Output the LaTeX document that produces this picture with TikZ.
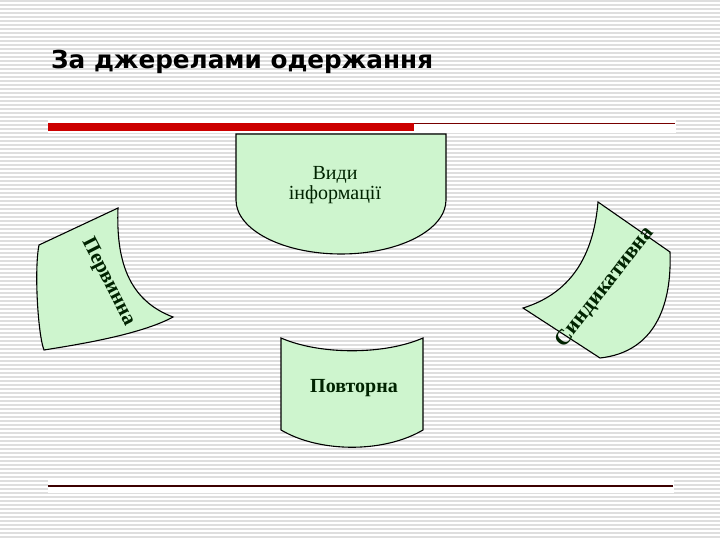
\documentclass[tikz,border=0pt]{standalone}
\usepackage{fontspec}
\setmainfont{Liberation Serif}
\newfontfamily\titlefont{DejaVu Sans}
\usetikzlibrary{calc}

\definecolor{stripegray}{RGB}{222,222,222}
\definecolor{palegreen}{RGB}{206,245,206}
\definecolor{barred}{RGB}{204,0,0}
\definecolor{linered}{RGB}{120,0,0}
\definecolor{linedark}{RGB}{60,0,0}
\definecolor{textgreen}{RGB}{0,35,0}

\tikzset{
    sheet/.style={draw=black, line width=1.1pt, fill=palegreen},
    label/.style={text=textgreen, font=\fontsize{20}{20}\selectfont, inner sep=0pt},
    boldlabel/.style={label, font=\fontsize{21}{22}\selectfont\bfseries}
}

\begin{document}
\begin{tikzpicture}[x=1pt, y=-1pt]
    % Fix the page to the size of the slide
    \useasboundingbox (0,0) rectangle (720,540);

    % Draw the striped background
    \fill[white] (0,0) rectangle (720,540);
    \foreach \y in {0,4,...,536}
        \fill[stripegray] (0,\y) rectangle (720,\y+1.6);

    % Title of the slide
    \node[anchor=base west, inner sep=0pt, font=\titlefont\bfseries\fontsize{24.7}{30}\selectfont] (title) at (51,69) {За джерелами одержання};

    % Red bar with the thin line after it
    \fill[white] (48,118) rectangle (676,133);
    \fill[barred] (48,123) rectangle (414,131);
    \draw[linered, line width=1pt] (414,123.5) -- (675,123.5);

    % Bottom line
    \fill[white] (48,480) rectangle (674,493);
    \draw[linedark, line width=1.2pt] (48,486) -- (673,486);

    % Draw the top sheet, flat on top and round below
    \draw[sheet] (236,134) -- (446,134) -- (446,200)
        arc[start angle=0, end angle=180, x radius=105, y radius=54] -- cycle;
    \node[label, align=center] (vydy) at (335,185) {Види\\інформації};

    % Draw the left sheet
    \draw[sheet] (39,245) -- (118,208)
        .. controls (116,260) and (128,300) .. (173,317)
        .. controls (140,335) and (75,345) .. (44,350)
        .. controls (38,335) and (34,270) .. cycle;
    \node[boldlabel, rotate=-63] (pervynna) at (108,282) {Первинна};

    % Draw the right sheet
    \draw[sheet] (598,202) -- (670,252)
        .. controls (672,305) and (655,352) .. (600,358) -- (523,308)
        .. controls (575,292) and (594,250) .. cycle;
    \node[boldlabel, font=\fontsize{22}{24}\selectfont\bfseries, rotate=52] (syndykatyvna) at (605,287) {Синдикативна};

    % Draw the bottom sheet, hollow on top and round below
    \draw[sheet] (281,338) .. controls (320,355) and (384,355) .. (423,338)
        -- (423,430) .. controls (384,453) and (320,453) .. (281,430) -- cycle;
    \node[boldlabel, font=\fontsize{20}{22}\selectfont\bfseries] (povtorna) at (354,388) {Повторна};

\end{tikzpicture}
\end{document}
